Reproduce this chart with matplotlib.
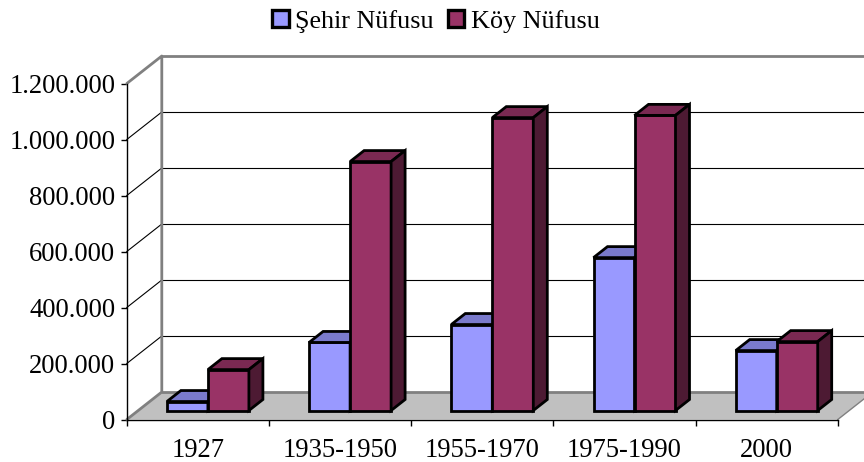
import matplotlib
matplotlib.use("Agg")
import matplotlib.pyplot as plt
from matplotlib.patches import Patch

plt.rcParams['font.family'] = ['Liberation Serif', 'DejaVu Serif']

categories = ["1927", "1935-1950", "1955-1970", "1975-1990", "2000"]
sehir = [32000, 243000, 307000, 546000, 214000]
koy = [146000, 889000, 1046000, 1054000, 246000]
yticks = [0, 200000, 400000, 600000, 800000, 1000000, 1200000]
ylabels = ["0", "200.000", "400.000", "600.000", "800.000", "1.000.000", "1.200.000"]
names = ["Şehir Nüfusu", "Köy Nüfusu"]

BLUE = ("#9999FF", "#7A7ACC", "#4D4D80")
RED = ("#993366", "#7A2952", "#4D1A33")

fig = plt.figure(figsize=(8.64, 4.62), dpi=100)
ax = fig.add_axes([126.8/864, 42.5/462, 711/864, 336/462])
ax.set_xlim(0, 5)
ax.set_ylim(0, 1200000)

# pixel sizes turned into data units
px_x = 5/711
px_y = 1200000/336
wall_x, wall_y = 35*px_x, 27.5*px_y
shift_x, shift_y = 10*px_x, 9*px_y
dep_x, dep_y = 14*px_x, 11*px_y
bar_w = 41*px_x

# floor and walls
ax.fill([0, wall_x, 5+wall_x, 5], [0, wall_y, wall_y, 0], color="#C0C0C0", lw=0, clip_on=False, zorder=1)
for v in yticks[1:-1]:
    ax.plot([0, wall_x], [v, v+wall_y], color="black", lw=0.8, clip_on=False, zorder=1.5)
    ax.plot([wall_x, 5+wall_x], [v+wall_y, v+wall_y], color="black", lw=0.8, clip_on=False, zorder=1.5)
gray = dict(color="#808080", lw=2, clip_on=False, zorder=2, solid_capstyle="round")
ax.plot([0, wall_x, wall_x, 0], [0, wall_y, 1200000+wall_y, 1200000], **gray)
ax.plot([wall_x, 5+wall_x], [wall_y, wall_y], **gray)
ax.plot([wall_x, 5+wall_x], [1200000+wall_y, 1200000+wall_y], **gray)
ax.plot([5, 5+wall_x], [0, wall_y], color="#808080", lw=1, clip_on=False, zorder=2)


def box(x, v, cols, z):
    ax.bar(x, v, bar_w, bottom=shift_y, align="edge", color=cols[0], edgecolor="black",
           linewidth=2, clip_on=False, zorder=z)
    top = v + shift_y
    ax.fill([x, x+dep_x, x+bar_w+dep_x, x+bar_w], [top, top+dep_y, top+dep_y, top],
            facecolor=cols[1], edgecolor="black", lw=2, clip_on=False, zorder=z, joinstyle="miter")
    ax.fill([x+bar_w, x+bar_w+dep_x, x+bar_w+dep_x, x+bar_w],
            [top, top+dep_y, shift_y+dep_y, shift_y],
            facecolor=cols[2], edgecolor="black", lw=2, clip_on=False, zorder=z, joinstyle="miter")


for i in range(len(categories)):
    mid = i + 0.5 + shift_x
    box(mid-bar_w, sehir[i], BLUE, 3+i*0.1)
    box(mid, koy[i], RED, 3.05+i*0.1)

ax.spines['top'].set_visible(False)
ax.spines['right'].set_visible(False)
ax.spines['left'].set_linewidth(1)
ax.spines['bottom'].set_linewidth(1)

ax.set_yticks(yticks)
ax.set_yticklabels(ylabels, fontsize=19.2)
ax.set_xticks(range(6))
ax.set_xticklabels([])
ax.set_xticks([i+0.5 for i in range(5)], minor=True)
ax.set_xticklabels(categories, minor=True, fontsize=19.2)
ax.tick_params(axis='x', which='major', length=4.3, width=1)
ax.tick_params(axis='x', which='minor', length=0, pad=13)
ax.tick_params(axis='y', length=4.3, width=1, pad=4)

handles = [Patch(facecolor=BLUE[0], edgecolor="black", lw=2.4), Patch(facecolor=RED[0], edgecolor="black", lw=2.4)]
fig.legend(handles, names, loc="upper center", bbox_to_anchor=(436/864, 1.03), ncol=2, frameon=False,
           fontsize=18.8, handlelength=0.62, handleheight=0.62, handletextpad=0.25, columnspacing=0.55)

fig.savefig("out.png", dpi=100)
